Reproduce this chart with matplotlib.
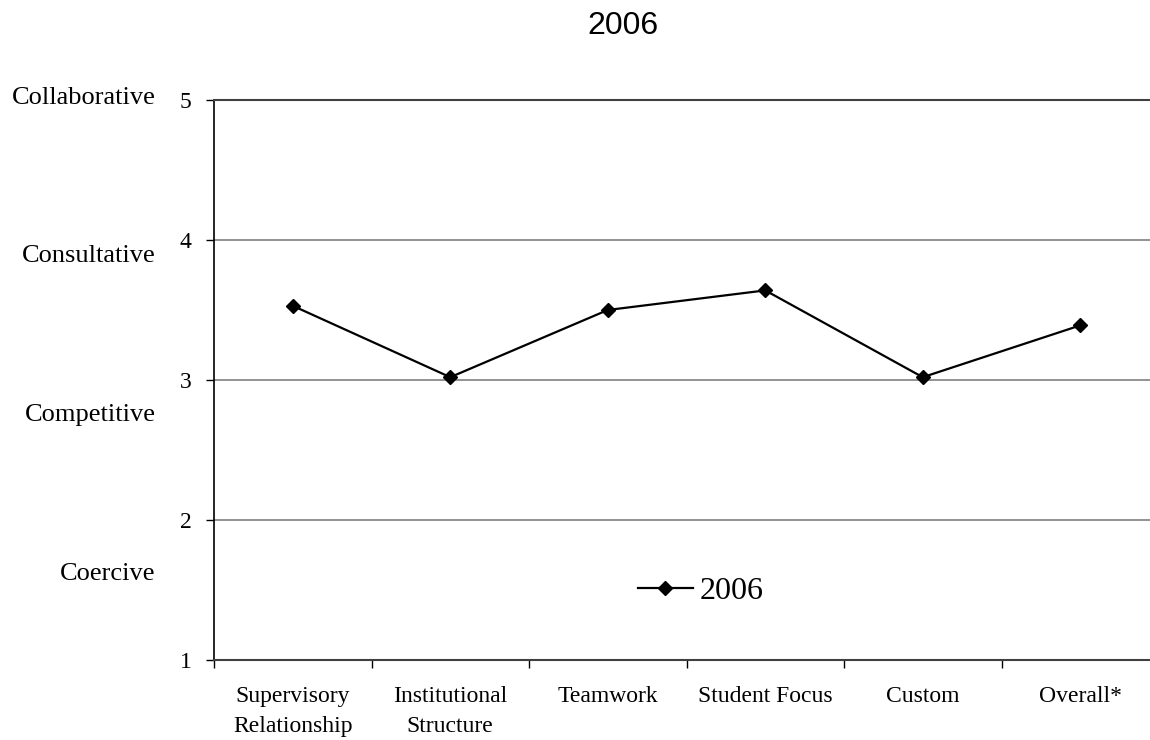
import matplotlib
matplotlib.use("Agg")
import matplotlib.pyplot as plt
import numpy as np

categories = ["Supervisory\nRelationship", "Institutional\nStructure", "Teamwork",
              "Student Focus", "Custom", "Overall*"]
scores_2006 = [3.53, 3.02, 3.50, 3.64, 3.02, 3.39]
y_ticks = [1, 2, 3, 4, 5]
style_labels = ["Collaborative", "Consultative", "Competitive", "Coercive"]
style_label_y = [1.003, 0.722, 0.438, 0.154]  # axes fraction

plt.rcParams["font.family"] = ["Liberation Serif", "DejaVu Serif"]

fig = plt.figure(figsize=(11.5, 7.4), dpi=100)
ax = fig.add_axes([214 / 1150, 80 / 740, 945 / 1150, 560 / 740])

x = np.arange(len(categories))
ax.plot(x, scores_2006, color="black", lw=1.6, marker="D", ms=7.5, label="2006", zorder=3)

ax.set_xlim(-0.5, len(categories) - 0.5)
ax.set_ylim(1, 5)
ax.set_yticks(y_ticks)
ax.set_yticklabels([str(v) for v in y_ticks], fontsize=17)
ax.set_xticks(x)
ax.set_xticklabels(categories, fontsize=17, linespacing=1.55)
ax.set_xticks(np.arange(len(categories) + 1) - 0.5, minor=True)
ax.tick_params(axis="x", which="major", length=0, pad=19)
ax.tick_params(axis="x", which="minor", length=6, width=1, direction="out")
ax.tick_params(axis="y", length=6, width=1, direction="out", pad=10)

for v in y_ticks[1:-1]:
    ax.axhline(v, color="#808080", lw=1.2, zorder=1)

ax.spines["right"].set_visible(False)
ax.spines["top"].set_color("#404040")
ax.spines["top"].set_linewidth(1.5)
ax.spines["bottom"].set_color("#404040")
ax.spines["bottom"].set_linewidth(1.5)
ax.spines["left"].set_linewidth(1.2)

for lab, yy in zip(style_labels, style_label_y):
    ax.text(-0.062, yy, lab, transform=ax.transAxes, ha="right", va="center", fontsize=19)

ax.legend(loc="center", bbox_to_anchor=(0.515, 0.123), frameon=False, fontsize=23,
          handlelength=1.75, handletextpad=0.2)

fig.text(623 / 1150, 1 - 26 / 740, "2006", ha="center", va="center", fontsize=23,
         family=["Liberation Sans", "DejaVu Sans"])

fig.savefig("out.png", dpi=100)
